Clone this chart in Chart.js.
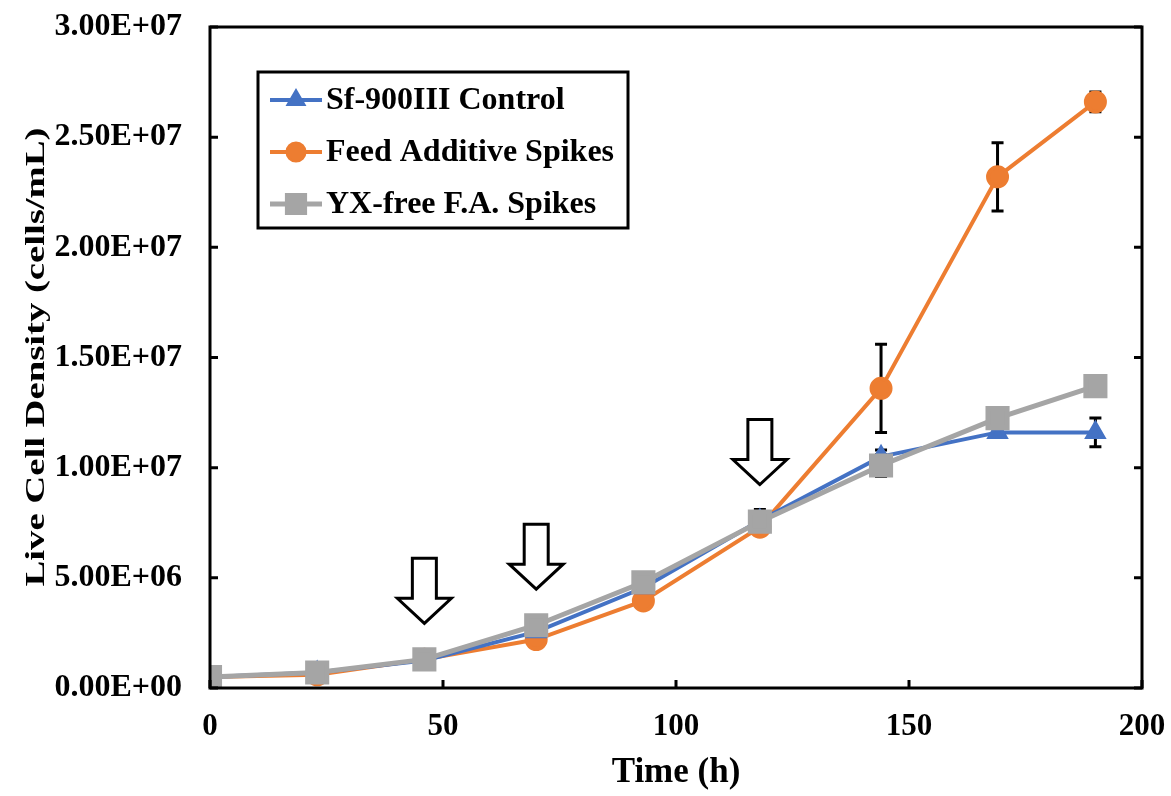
<!DOCTYPE html>
<html>
<head>
<meta charset="utf-8">
<script src="https://cdn.jsdelivr.net/npm/chart.js@4/dist/chart.umd.min.js"></script>
<style>
    body { margin: 0; background: #fff; }
    #wrap { width: 1171px; height: 796px; position: relative; }
</style>
</head>
<body>
<div id="wrap"><canvas id="growthChart"></canvas></div>
<script>
// time points (h)
const times = [0, 23, 46, 70, 93, 118, 144, 169, 190];

// live cell density (cells/mL)
const controlValues = [0.5e6, 0.7e6, 1.25e6, 2.55e6, 4.55e6, 7.6e6, 10.5e6, 11.6e6, 11.6e6];
const feedValues = [0.5e6, 0.6e6, 1.3e6, 2.2e6, 3.95e6, 7.3e6, 13.6e6, 23.2e6, 26.6e6];
const yxFreeValues = [0.5e6, 0.7e6, 1.3e6, 2.85e6, 4.8e6, 7.55e6, 10.1e6, 12.25e6, 13.7e6];

// standard deviations
const controlErrors = [0, 0, 0, 0, 0, 0.5e6, 0.3e6, 0.15e6, 0.65e6];
const feedErrors = [0, 0, 0, 0, 0, 0.35e6, 2.0e6, 1.55e6, 0.45e6];
const yxFreeErrors = [0, 0, 0, 0, 0, 0, 0.5e6, 0, 0];

// feed spike times
const spikeTimes = [46, 70, 118];

const seriesLabels = ['Sf-900III Control', 'Feed Additive Spikes', 'YX-free F.A. Spikes'];
const xTicks = [0, 50, 100, 150, 200];
const yTicks = [0, 5e6, 10e6, 15e6, 20e6, 25e6, 30e6];

const serif = "'Liberation Serif', 'Times New Roman', serif";

function toPoints(values) {
    return values.map((v, i) => ({x: times[i], y: v}));
}

function formatSci(value) {
    if (value === 0) return '0.00E+00';
    const exp = Math.floor(Math.log10(value));
    const mant = (value / Math.pow(10, exp)).toFixed(2);
    const sign = exp < 0 ? '-' : '+';
    return `${mant}E${sign}${String(Math.abs(exp)).padStart(2, '0')}`;
}

const errorBarPlugin = {
    id: 'errorBars',
    beforeDatasetsDraw(chart) {
        const {ctx} = chart;
        const xs = chart.scales.x;
        const ys = chart.scales.y;
        ctx.save();
        ctx.strokeStyle = '#000';
        ctx.lineWidth = 3;
        chart.data.datasets.forEach(ds => {
            ds.errors.forEach((err, i) => {
                if (!err) return;
                const px = xs.getPixelForValue(times[i]);
                const top = ys.getPixelForValue(ds.data[i].y + err);
                const bot = ys.getPixelForValue(ds.data[i].y - err);
                ctx.beginPath();
                ctx.moveTo(px, top);
                ctx.lineTo(px, bot);
                ctx.moveTo(px - 6, top);
                ctx.lineTo(px + 6, top);
                ctx.moveTo(px - 6, bot);
                ctx.lineTo(px + 6, bot);
                ctx.stroke();
            });
        });
        ctx.restore();
    }
};

const framePlugin = {
    id: 'frame',
    afterDraw(chart) {
        const {ctx, chartArea} = chart;
        const xs = chart.scales.x;
        const ys = chart.scales.y;
        ctx.save();
        ctx.strokeStyle = '#000';
        ctx.lineWidth = 3;
        ctx.strokeRect(chartArea.left, chartArea.top, chartArea.right - chartArea.left, chartArea.bottom - chartArea.top);
        ctx.beginPath();
        xTicks.forEach(t => {
            const px = xs.getPixelForValue(t);
            ctx.moveTo(px, chartArea.bottom);
            ctx.lineTo(px, chartArea.bottom - 8);
        });
        yTicks.forEach(t => {
            const py = ys.getPixelForValue(t);
            ctx.moveTo(chartArea.left, py);
            ctx.lineTo(chartArea.left + 8, py);
            ctx.moveTo(chartArea.right, py);
            ctx.lineTo(chartArea.right - 8, py);
        });
        ctx.stroke();
        ctx.restore();
    }
};

const arrowPlugin = {
    id: 'spikeArrows',
    afterDatasetsDraw(chart) {
        const {ctx} = chart;
        const xs = chart.scales.x;
        const ys = chart.scales.y;
        ctx.save();
        ctx.strokeStyle = '#000';
        ctx.fillStyle = '#fff';
        ctx.lineWidth = 3;
        ctx.lineJoin = 'miter';
        spikeTimes.forEach(t => {
            const idx = times.indexOf(t);
            const highest = Math.max(...chart.data.datasets.map(ds => ds.data[idx].y));
            const cx = xs.getPixelForValue(t);
            const tip = ys.getPixelForValue(highest) - 36;
            ctx.beginPath();
            ctx.moveTo(cx, tip);
            ctx.lineTo(cx - 27, tip - 25);
            ctx.lineTo(cx - 12, tip - 25);
            ctx.lineTo(cx - 12, tip - 65);
            ctx.lineTo(cx + 12, tip - 65);
            ctx.lineTo(cx + 12, tip - 25);
            ctx.lineTo(cx + 27, tip - 25);
            ctx.closePath();
            ctx.fill();
            ctx.stroke();
        });
        ctx.restore();
    }
};

const legendPlugin = {
    id: 'boxLegend',
    afterDraw(chart) {
        const {ctx} = chart;
        const left = 258, top = 72, width = 370, height = 156;
        ctx.save();
        ctx.fillStyle = '#fff';
        ctx.fillRect(left, top, width, height);
        ctx.strokeStyle = '#000';
        ctx.lineWidth = 3;
        ctx.strokeRect(left, top, width, height);
        chart.data.datasets.forEach((ds, i) => {
            const y = top + 28 + i * 52;
            ctx.strokeStyle = ds.borderColor;
            ctx.lineWidth = ds.borderWidth;
            ctx.beginPath();
            ctx.moveTo(left + 12, y);
            ctx.lineTo(left + 64, y);
            ctx.stroke();
            ctx.fillStyle = ds.backgroundColor;
            Chart.helpers.drawPoint(ctx, {
                pointStyle: ds.pointStyle,
                radius: ds.pointRadius * 0.9,
                borderWidth: 1,
                rotation: 0
            }, left + 38, y);
            ctx.fill();
            ctx.fillStyle = '#000';
            ctx.font = `bold 32px ${serif}`;
            ctx.textBaseline = 'middle';
            ctx.textAlign = 'left';
            ctx.fillText(ds.label, left + 68, y + 1);
        });
        ctx.restore();
    }
};

const yTitlePlugin = {
    id: 'yTitle',
    afterDraw(chart) {
        const {ctx} = chart;
        const text = 'Live Cell Density (cells/mL)';
        ctx.save();
        ctx.font = `bold 28px ${serif}`;
        const natural = ctx.measureText(text).width;
        ctx.translate(37, 357);
        ctx.rotate(-Math.PI / 2);
        ctx.scale(459 / natural, 1);
        ctx.fillStyle = '#000';
        ctx.textAlign = 'center';
        ctx.textBaseline = 'middle';
        ctx.fillText(text, 0, 0);
        ctx.restore();
    }
};

const datasets = [
    {
        label: seriesLabels[0],
        data: toPoints(controlValues),
        errors: controlErrors,
        borderColor: '#4472C4',
        backgroundColor: '#4472C4',
        borderWidth: 4,
        pointStyle: 'triangle',
        pointRadius: 9,
        order: 1
    },
    {
        label: seriesLabels[1],
        data: toPoints(feedValues),
        errors: feedErrors,
        borderColor: '#ED7D31',
        backgroundColor: '#ED7D31',
        borderWidth: 4,
        pointStyle: 'circle',
        pointRadius: 9.5,
        order: 2
    },
    {
        label: seriesLabels[2],
        data: toPoints(yxFreeValues),
        errors: yxFreeErrors,
        borderColor: '#A5A5A5',
        backgroundColor: '#A5A5A5',
        borderWidth: 5,
        pointStyle: 'rect',
        pointRadius: 13.5,
        order: 0
    }
];

new Chart(document.getElementById('growthChart').getContext('2d'), {
    type: 'line',
    data: {datasets: datasets},
    options: {
        responsive: true,
        maintainAspectRatio: false,
        animation: false,
        layout: {padding: {top: 27, right: 29, left: 0, bottom: 0}},
        elements: {
            line: {tension: 0},
            point: {borderWidth: 1, hoverRadius: 9}
        },
        scales: {
            x: {
                type: 'linear',
                min: 0,
                max: 200,
                afterBuildTicks: scale => { scale.ticks = xTicks.map(v => ({value: v})); },
                afterFit: scale => {
                    scale.height = 108;
                    scale.paddingLeft = 0;
                    scale.paddingRight = 0;
                },
                grid: {display: false, drawTicks: false},
                border: {display: false},
                ticks: {
                    padding: 20,
                    color: '#000',
                    font: {family: serif, size: 31, weight: 'bold'}
                },
                title: {
                    display: true,
                    text: 'Time (h)',
                    color: '#000',
                    font: {family: serif, size: 35, weight: 'bold'},
                    padding: {top: 0, bottom: 2}
                }
            },
            y: {
                min: 0,
                max: 3e7,
                afterBuildTicks: scale => { scale.ticks = yTicks.map(v => ({value: v})); },
                afterFit: scale => {
                    scale.width = 210;
                    scale.paddingTop = 0;
                    scale.paddingBottom = 0;
                },
                grid: {display: false, drawTicks: false},
                border: {display: false},
                ticks: {
                    padding: 28,
                    color: '#000',
                    font: {family: serif, size: 32, weight: 'bold'},
                    callback: value => formatSci(value)
                }
            }
        },
        plugins: {
            legend: {display: false},
            tooltip: {enabled: false}
        }
    },
    plugins: [errorBarPlugin, arrowPlugin, framePlugin, legendPlugin, yTitlePlugin]
});
</script>
</body>
</html>
